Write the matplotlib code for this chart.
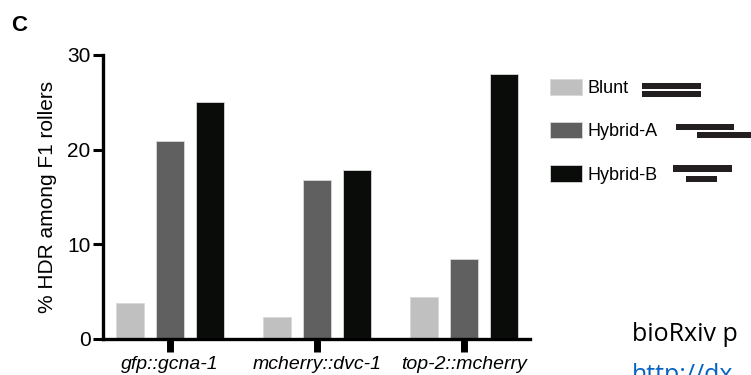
import numpy as np
import matplotlib.pyplot as plt
from matplotlib.patches import Patch, Rectangle

plt.rcParams['font.family'] = ['Liberation Sans', 'DejaVu Sans']

# data
genes = ['gfp::gcna-1', 'mcherry::dvc-1', 'top-2::mcherry']
donors = ['Blunt', 'Hybrid-A', 'Hybrid-B']
blunt = [3.8, 2.3, 4.4]
hybrid_a = [20.9, 16.8, 8.4]
hybrid_b = [25.0, 17.9, 28.0]
colors = ['#c0c0c0', '#606060', '#0a0c0a']

W, H = 751, 375
fig = plt.figure(figsize=(W / 100, H / 100), dpi=100)
ax = fig.add_axes([103 / W, 1 - 339 / H, (530 - 103) / W, (339 - 55) / H])

x = np.arange(len(genes))
off = 0.272
width = 0.19
for i, (vals, c) in enumerate(zip([blunt, hybrid_a, hybrid_b], colors)):
    ax.bar(x + (i - 1) * off, vals, width, color=c, edgecolor='#d8d8d8',
           linewidth=0.6, zorder=2)

ax.set_xlim(-0.456, 2.45)
ax.set_ylim(0, 30)
ax.set_yticks([0, 10, 20, 30])
ax.set_xticks(x)
ax.set_xticklabels(genes, fontstyle='italic', fontsize=14)
ax.tick_params(axis='y', labelsize=15, width=2.2, length=7, pad=2)
ax.tick_params(axis='x', width=5, length=9, pad=3)
for s in ['top', 'right']:
    ax.spines[s].set_visible(False)
for s in ['left', 'bottom']:
    ax.spines[s].set_linewidth(2.4)
    ax.spines[s].set_zorder(3)
ax.set_ylabel('% HDR among F1 rollers', fontsize=15, labelpad=7)

# legend
handles = [Patch(facecolor=c, edgecolor='#d8d8d8', linewidth=0.6) for c in colors]
fig.legend(handles, donors, loc='upper left', bbox_to_anchor=(550 / W, 1 - 79 / H),
           frameon=False, fontsize=13, handlelength=1.75, handleheight=1.0,
           handletextpad=0.3, labelspacing=1.38, borderpad=0, borderaxespad=0)

# overhang glyphs next to legend (pixel boxes: x0, x1, y0, y1)
glyphs = [(642, 701, 83, 89), (642, 701, 91, 97),
          (676, 734, 124, 130), (697, 752, 132, 138),
          (673, 732, 165, 172), (686, 717, 176, 182)]
for x0, x1, y0, y1 in glyphs:
    fig.add_artist(Rectangle((x0 / W, 1 - y1 / H), (x1 - x0) / W, (y1 - y0) / H,
                             transform=fig.transFigure, color='#231f20', lw=0))

fig.text(11 / W, 1 - 31 / H, 'C', fontsize=16, fontweight='bold', va='baseline')
fig.text(632 / W, 1 - 341 / H, 'bioRxiv p', fontsize=18, family='Open Sans',
         va='baseline')
fig.text(632 / W, 1 - 382 / H, 'http://dx', fontsize=18, family='Open Sans',
         va='baseline', color='#0563c1')

fig.savefig('out.png', dpi=100)
